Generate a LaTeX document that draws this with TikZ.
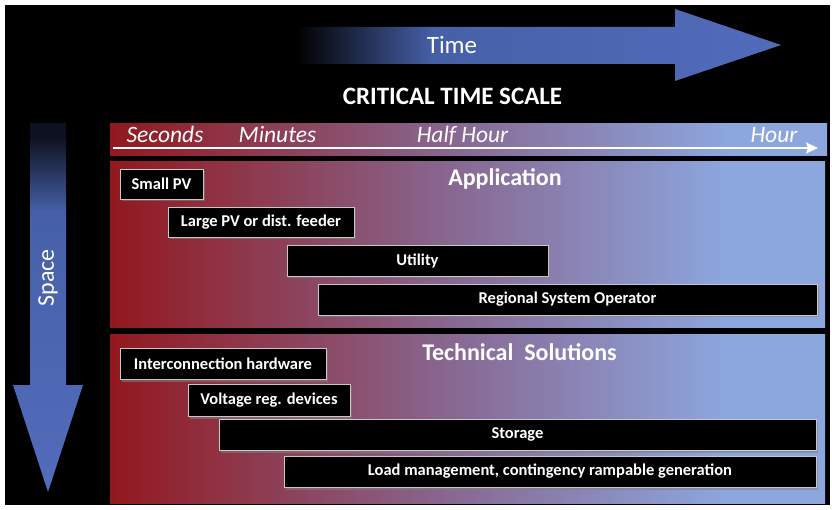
\documentclass[tikz,border=0pt]{standalone}
\usepackage{fontspec}
\setmainfont{Carlito}
\usetikzlibrary{arrows.meta,shadows}

\definecolor{panelred}{RGB}{146,24,30}
\definecolor{panelmid}{RGB}{136,104,146}
\definecolor{panelblue}{RGB}{140,166,222}
\definecolor{arrowblue}{RGB}{70,96,168}
\definecolor{arrowlight}{RGB}{82,108,188}
\definecolor{arrownavy}{RGB}{14,18,32}
\definecolor{barline}{RGB}{200,200,200}

\pgfdeclarehorizontalshading{scaleshade}{100bp}{color(0bp)=(panelred); color(25bp)=(panelred); color(49bp)=(panelmid); color(68bp)=(panelblue); color(100bp)=(panelblue)}
\pgfdeclarehorizontalshading{timeshade}{100bp}{color(0bp)=(black); color(26bp)=(black); color(40bp)=(arrowblue); color(75bp)=(arrowlight); color(100bp)=(arrowlight)}
\pgfdeclareverticalshading{spaceshade}{100bp}{color(0bp)=(arrowlight); color(25bp)=(arrowlight); color(63bp)=(arrowblue); color(73bp)=(arrownavy); color(100bp)=(arrownavy)}

\begin{document}
\begin{tikzpicture}[x=1pt, y=-1pt,
    bar/.style={draw=barline, line width=0.8pt, fill=black, text=white, inner sep=0pt,
      font=\bfseries\fontsize{16.5}{18}\selectfont,
      drop shadow={shadow xshift=2pt, shadow yshift=-2.5pt, opacity=0.55}},
    scalelabel/.style={text=white, anchor=base, font=\itshape\fontsize{23.5}{26}\selectfont},
    paneltitle/.style={text=white, anchor=base, font=\bfseries\fontsize{24}{28}\selectfont}]
  \useasboundingbox (0,0) rectangle (832,510);
  \fill[white] (0,0) rectangle (832,510);
  \fill[black] (5,5) rectangle (830,505);

  % big arrows
  \fill[shading=timeshade] (285,27) -- (675,27) -- (675,9) -- (781,45) -- (675,81)
        -- (675,64) -- (285,64) -- cycle;
  \fill[shading=spaceshade] (30,123) -- (66,123) -- (66,385) -- (83,385) -- (48,492)
        -- (13,385) -- (30,385) -- cycle;
  \node[text=white, anchor=base, font=\fontsize{25}{28}\selectfont] (timelabel) at (452,54) {Time};
  \node[text=white, rotate=90, font=\fontsize{24}{28}\selectfont] (spacelabel) at (48,278) {Space};
  \node[text=white, font=\bfseries\fontsize{25}{28}\selectfont] (scaletitle) at (452.5,96) {CRITICAL TIME SCALE};

  % time scale
  \fill[shading=scaleshade] (110,124) rectangle (827,156);
  \node[scalelabel] (seconds) at (165,143) {Seconds};
  \node[scalelabel] (minutes) at (277.5,143) {Minutes};
  \node[scalelabel] (halfhour) at (462.5,143) {Half Hour};
  \node[scalelabel] (hour) at (774,143) {Hour};
  \coordinate (scalestart) at (113,148);
  \coordinate (scaleend) at (818,148);
  \draw[white, line width=2pt, -{Stealth[length=12pt,width=11pt,inset=2pt]}] (scalestart) -- (scaleend);

  % application
  \fill[shading=scaleshade] (110,162) rectangle (825,328);
  \node[paneltitle] (application) at (505,186) {Application};
  \node[bar, minimum width=83pt, minimum height=30pt] (smallpv) at (161.5,184) {Small PV};
  \node[bar, minimum width=186pt, minimum height=30pt] (largepv) at (261,222) {Large PV or dist. feeder};
  \node[bar, minimum width=261pt, minimum height=31pt] (utility) at (417.5,260.5) {Utility};
  \node[bar, minimum width=499pt, minimum height=31pt] (rso) at (567.5,299.5) {Regional System Operator};

  % technical solutions
  \fill[shading=scaleshade] (110,335) rectangle (825,503);
  \node[paneltitle] (technical) at (519.5,360) {Technical~~Solutions};
  \node[bar, minimum width=206pt, minimum height=31pt] (interconn) at (223,363.5) {Interconnection hardware};
  \node[bar, minimum width=162pt, minimum height=32pt] (voltage) at (269,400) {Voltage reg. devices};
  \node[bar, minimum width=597pt, minimum height=31pt] (storage) at (517.5,434.5) {Storage};
  \node[bar, minimum width=532pt, minimum height=31pt] (loadmgmt) at (550,471.5) {Load management, contingency rampable generation};
\end{tikzpicture}
\end{document}
